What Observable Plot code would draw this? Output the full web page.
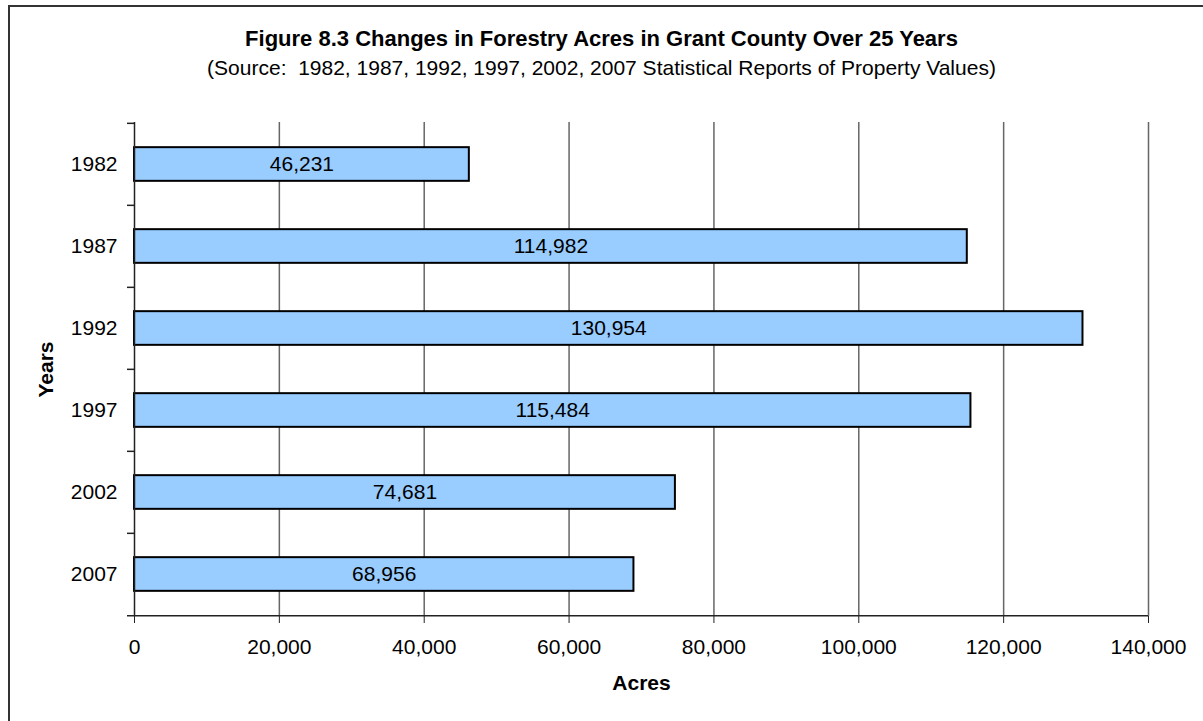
<!DOCTYPE html>
<html><head><meta charset="utf-8">
<script src="https://cdn.jsdelivr.net/npm/d3@7"></script>
<script src="https://cdn.jsdelivr.net/npm/@observablehq/plot@0.6"></script>
<style>
body{margin:0;background:#fff;font-family:"Liberation Sans",Arial,sans-serif;color:#000;}
#wrap{position:relative;width:1203px;height:721px;overflow:hidden;background:#fff;}
#border{position:absolute;left:8px;top:5px;width:1400px;height:900px;border-left:2px solid #333;border-top:2px solid #333;}
#title{position:absolute;left:0;width:1203px;top:28px;text-align:center;font-weight:bold;font-size:22px;line-height:22px;white-space:nowrap;}
#sub{position:absolute;left:0;width:1203px;top:57px;text-align:center;font-size:21px;line-height:21px;white-space:nowrap;}
#chart{position:absolute;top:100px;left:0;}
</style>
</head><body>
<div id="wrap">
  <div id="border"></div>
  <div id="title">Figure 8.3 Changes in Forestry Acres in Grant County Over 25 Years</div>
  <div id="sub">(Source:&nbsp; 1982, 1987, 1992, 1997, 2002, 2007 Statistical Reports of Property Values)</div>
  <div id="chart"></div>
</div>
<script>
const years = ["1982", "1987", "1992", "1997", "2002", "2007"];
const acres = [46231, 114982, 130954, 115484, 74681, 68956];
const xTicks = [0, 20000, 40000, 60000, 80000, 100000, 120000, 140000];
const xLabel = "Acres";
const yLabel = "Years";

const data = years.map((y, i) => ({year: y, acres: acres[i]}));

const W = 1203, H = 621;
const mt = 22, mb = 105, ml = 134, mr = 55;
const bw = (H - mt - mb) / years.length;
const barH = 34;
const inset = (bw - barH) / 2;
const fmt = d3.format(",");
const axisColor = "#222";
const fs = 21;

const chart = Plot.plot({
  width: W, height: H,
  marginTop: mt, marginBottom: mb, marginLeft: ml, marginRight: mr,
  style: {fontFamily: "'Liberation Sans', Arial, sans-serif", fontSize: fs + "px", color: "#000", background: "transparent"},
  x: {domain: [xTicks[0], xTicks[xTicks.length - 1]], label: null},
  y: {domain: years, padding: 0, label: null},
  marks: [
    Plot.ruleX(xTicks.slice(1), {stroke: "#666", strokeWidth: 1.5}),
    Plot.barX(data, {x: "acres", y: "year", fill: "#99CCFF", stroke: "#000", strokeWidth: 2, insetTop: inset, insetBottom: inset}),
    Plot.text(data, {x: d => d.acres / 2, y: "year", text: d => fmt(d.acres), fontSize: fs, fill: "#000"}),
    Plot.ruleX([xTicks[0]], {stroke: axisColor, strokeWidth: 1.5}),
    Plot.ruleY(years, {y: d => d, dy: -bw / 2, x1: xTicks[0], x2: xTicks[0], insetLeft: -7, stroke: axisColor, strokeWidth: 1.5}),
    Plot.ruleY([years[years.length - 1]], {y: d => d, dy: bw / 2, insetLeft: -7, stroke: axisColor, strokeWidth: 1.5}),
    Plot.axisX({ticks: xTicks, tickSize: 7, tickPadding: 16, tickFormat: fmt, fontSize: fs, label: null, stroke: axisColor, fill: "#000"}),
    Plot.axisY({tickSize: 0, tickPadding: 17, fontSize: fs, label: null, fill: "#000"}),
    Plot.text([xLabel], {frameAnchor: "bottom", lineAnchor: "middle", textAnchor: "middle", dy: 67, fontWeight: "bold", fontSize: fs, fill: "#000"}),
    Plot.text([yLabel], {frameAnchor: "left", lineAnchor: "middle", textAnchor: "middle", dx: -88, rotate: -90, fontWeight: "bold", fontSize: fs, fill: "#000"})
  ]
});
document.getElementById("chart").appendChild(chart);
</script>
</body></html>
